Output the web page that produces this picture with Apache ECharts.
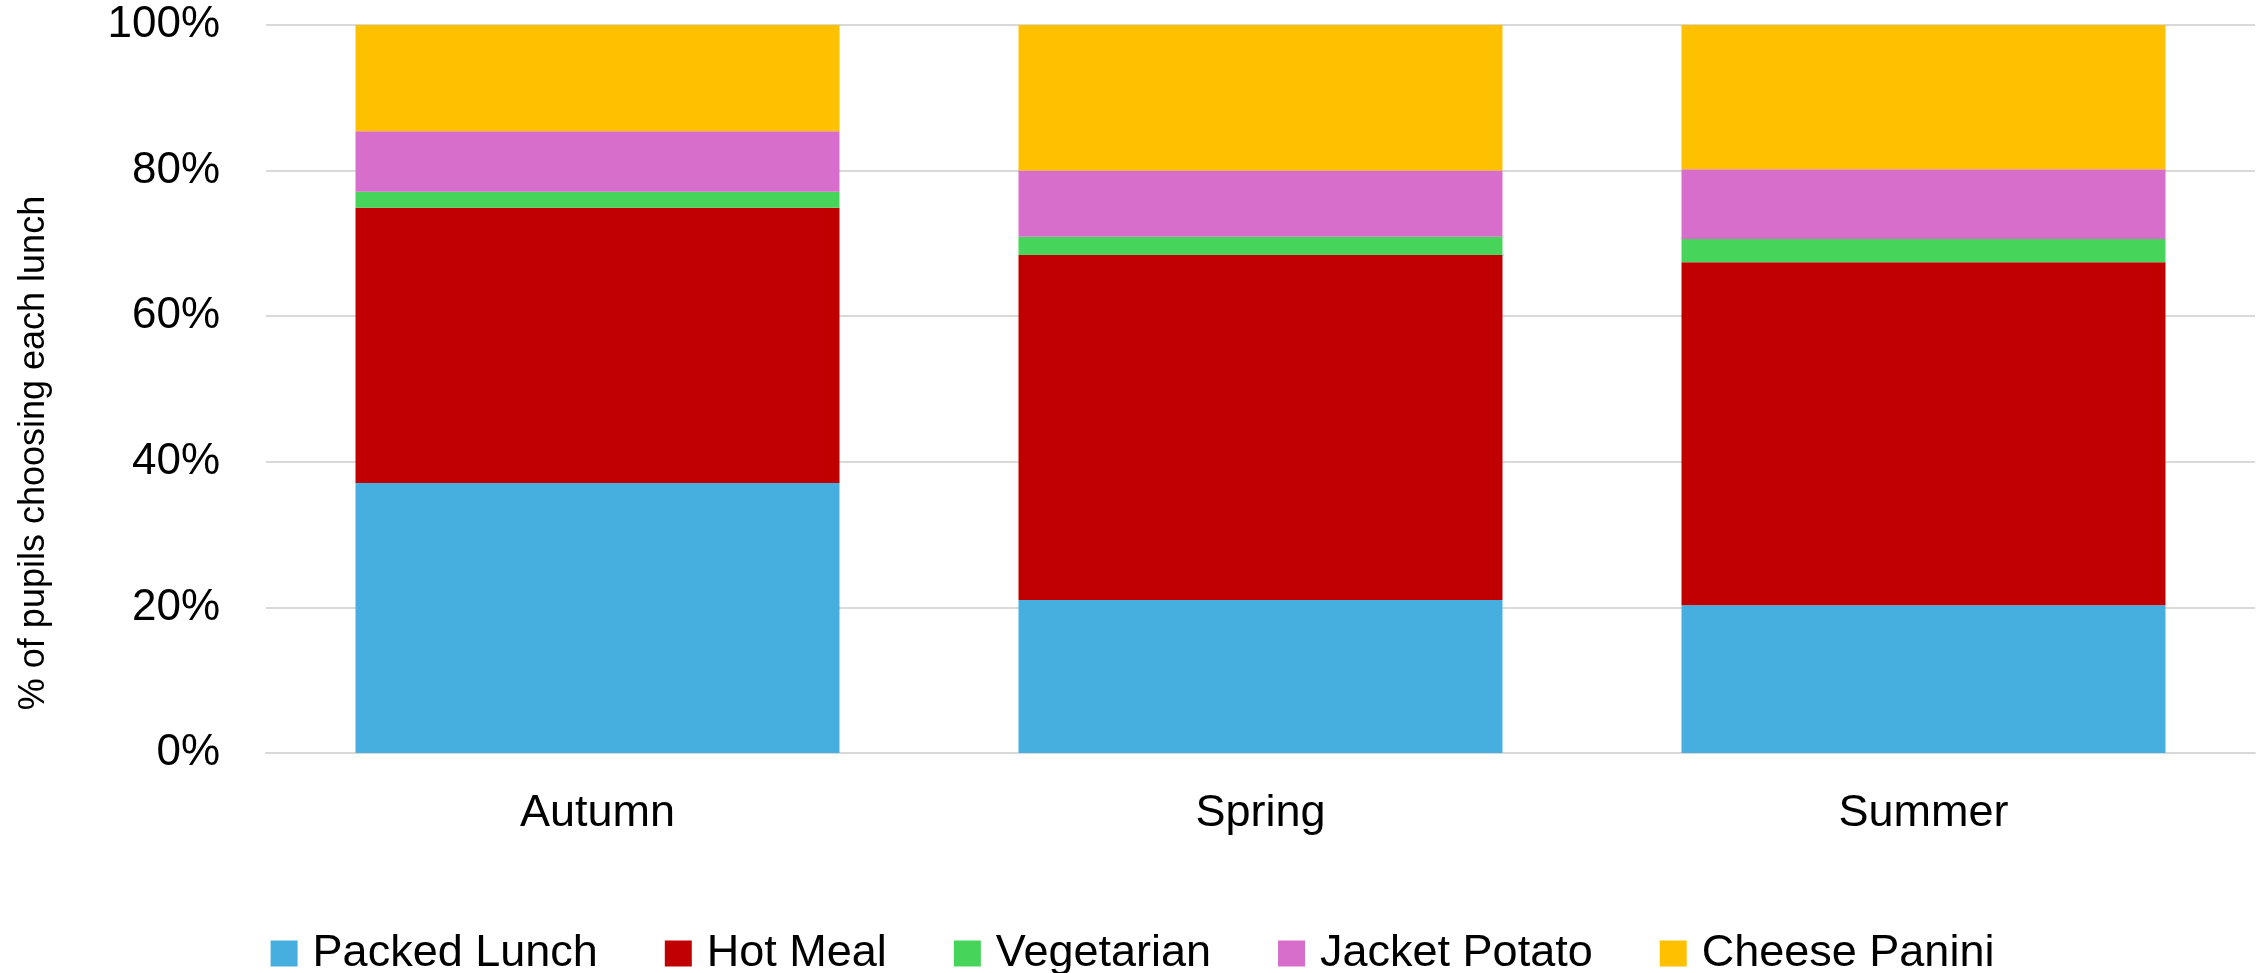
<!DOCTYPE html>
<html>
<head>
<meta charset="utf-8">
<title>School lunch choices</title>
<script src="https://cdn.jsdelivr.net/npm/echarts@6/dist/echarts.min.js"></script>
<style>
  html, body { margin: 0; padding: 0; background: #fff; }
  #chart { width: 2265px; height: 973px; }
</style>
</head>
<body>
<div id="chart"></div>
<script>
// terms
var categories = ["Autumn", "Spring", "Summer"];

// % of pupils per lunch type
var packedLunch = [37.1, 21.0, 20.3];
var hotMeal = [37.8, 47.4, 47.1];
var vegetarian = [2.2, 2.5, 3.2];
var jacketPotato = [8.3, 9.1, 9.6];
var cheesePanini = [14.6, 20.0, 19.8];

var seriesNames = ["Packed Lunch", "Hot Meal", "Vegetarian", "Jacket Potato", "Cheese Panini"];
var seriesColors = ["#47AFE0", "#C00000", "#47D45A", "#D86ECC", "#FFC000"];

var font = "'Liberation Sans', Arial, sans-serif";

var chart = echarts.init(document.getElementById("chart"));

function barSeries(i, data) {
  return {
    name: seriesNames[i],
    type: "bar",
    stack: "total",
    data: data,
    barCategoryGap: "27%",
    itemStyle: { color: seriesColors[i] },
    emphasis: { disabled: true }
  };
}

var option = {
  animation: false,
  textStyle: { fontFamily: font },
  grid: {
    left: 266,
    right: 10,
    top: 25,
    bottom: 220
  },
  legend: {
    data: seriesNames,
    top: 926,
    left: "center",
    icon: "rect",
    itemWidth: 27,
    itemHeight: 26,
    itemGap: 67,
    textStyle: {
      fontSize: 45,
      color: "#000",
      fontFamily: font,
      padding: [0, 0, 0, 10]
    }
  },
  xAxis: {
    type: "category",
    data: categories,
    axisLine: { lineStyle: { color: "#D9D9D9", width: 2 } },
    axisTick: { show: false },
    axisLabel: {
      fontSize: 45,
      color: "#000",
      margin: 38,
      fontFamily: font
    }
  },
  yAxis: {
    type: "value",
    min: 0,
    max: 100,
    interval: 20,
    axisLine: { show: false },
    axisTick: { show: false },
    axisLabel: {
      formatter: "{value}%",
      fontSize: 44,
      color: "#000",
      margin: 46,
      fontFamily: font
    },
    splitLine: { lineStyle: { color: "#D9D9D9", width: 2 } }
  },
  graphic: [
    {
      type: "text",
      x: 34,
      y: 453,
      rotation: Math.PI / 2,
      style: {
        text: "% of pupils choosing each lunch",
        fontSize: 36,
        fontFamily: font,
        fill: "#000",
        align: "center",
        verticalAlign: "middle"
      }
    }
  ],
  series: [
    barSeries(0, packedLunch),
    barSeries(1, hotMeal),
    barSeries(2, vegetarian),
    barSeries(3, jacketPotato),
    barSeries(4, cheesePanini)
  ]
};

chart.setOption(option);
</script>
</body>
</html>
